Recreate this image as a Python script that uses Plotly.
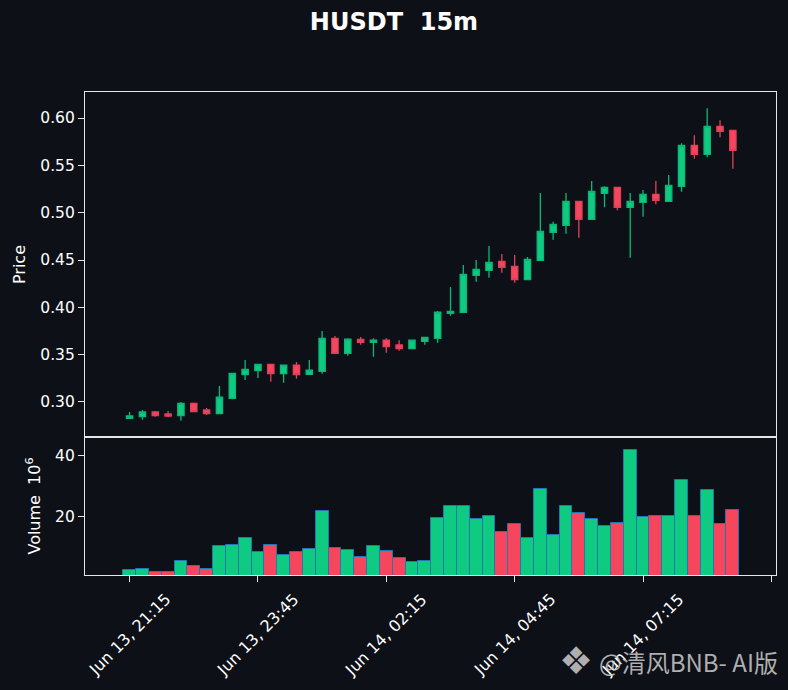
import pandas as pd
import plotly.graph_objects as go
from plotly.subplots import make_subplots

# 15m candles, Jun 13 21:15 -> Jun 14 09:00
times = pd.date_range("2025-06-13 21:15", periods=48, freq="15min")

opens = [0.2828, 0.2845, 0.2894, 0.2873, 0.2855, 0.2986, 0.2915, 0.2876, 0.3039, 0.3289,
         0.3331, 0.3398, 0.3299, 0.3388, 0.3293, 0.3324, 0.3673, 0.3514, 0.3662, 0.3631,
         0.3652, 0.3602, 0.3563, 0.3641, 0.3673, 0.3937, 0.3948, 0.4338, 0.4391, 0.4486,
         0.4433, 0.4292, 0.4497, 0.4793, 0.4866, 0.5120, 0.4930, 0.5205, 0.5268, 0.5057,
         0.5109, 0.5194, 0.5120, 0.5278, 0.5712, 0.5616, 0.5912, 0.5870]
highs = [0.2894, 0.2915, 0.2905, 0.2905, 0.3000, 0.2995, 0.2937, 0.3169, 0.3310, 0.3444,
         0.3400, 0.3398, 0.3390, 0.3423, 0.3444, 0.3750, 0.3697, 0.3673, 0.3687, 0.3673,
         0.3673, 0.3652, 0.3655, 0.3686, 0.3961, 0.4215, 0.4447, 0.4500, 0.4648, 0.4563,
         0.4553, 0.4532, 0.5208, 0.4905, 0.5208, 0.5125, 0.5334, 0.5279, 0.5270, 0.5208,
         0.5239, 0.5334, 0.5398, 0.5733, 0.5817, 0.6102, 0.5976, 0.5875]
lows = [0.2828, 0.2813, 0.2845, 0.2842, 0.2803, 0.2895, 0.2863, 0.2876, 0.3030, 0.3232,
        0.3254, 0.3214, 0.3204, 0.3246, 0.3293, 0.3299, 0.3510, 0.3489, 0.3605, 0.3479,
        0.3521, 0.3542, 0.3560, 0.3605, 0.3626, 0.3912, 0.3945, 0.4271, 0.4313, 0.4366,
        0.4260, 0.4290, 0.4495, 0.4714, 0.4778, 0.4736, 0.4925, 0.5057, 0.5025, 0.4524,
        0.4957, 0.5088, 0.5115, 0.5221, 0.5570, 0.5585, 0.5796, 0.5464]
closes = [0.2852, 0.2894, 0.2855, 0.2852, 0.2986, 0.2898, 0.2876, 0.3050, 0.3303, 0.3345,
          0.3398, 0.3299, 0.3388, 0.3289, 0.3335, 0.3673, 0.3514, 0.3665, 0.3631, 0.3652,
          0.3584, 0.3563, 0.3652, 0.3683, 0.3948, 0.3958, 0.4349, 0.4402, 0.4476, 0.4423,
          0.4292, 0.4507, 0.4803, 0.4877, 0.5120, 0.4930, 0.5226, 0.5268, 0.5057, 0.5120,
          0.5194, 0.5131, 0.5289, 0.5712, 0.5616, 0.5912, 0.5859, 0.5659]
# volume in millions
volumes = [2.2, 2.5, 1.6, 1.6, 5.2, 3.5, 2.5, 10.1, 10.5, 12.8,
           8.2, 10.5, 7.2, 8.2, 9.1, 21.7, 9.5, 8.8, 6.5, 10.1,
           8.5, 6.2, 4.9, 5.2, 19.4, 23.3, 23.3, 19.0, 20.0, 14.8,
           17.4, 12.8, 28.9, 13.8, 23.3, 21.0, 19.0, 16.7, 17.7, 41.8,
           19.7, 20.0, 20.0, 31.9, 20.0, 28.6, 17.4, 22.0]

tick_vals = ["2025-06-13 21:15", "2025-06-13 23:45", "2025-06-14 02:15",
             "2025-06-14 04:45", "2025-06-14 07:15"]
tick_text = ["Jun 13, 21:15", "Jun 13, 23:45", "Jun 14, 02:15",
             "Jun 14, 04:45", "Jun 14, 07:15"]
last_tick = "2025-06-14 09:45"  # unlabelled tick at the right edge

bg = "#0d1017"
up = "#0ecb81"
down = "#f6465d"
axcol = "#e6e6e6"
x_range = ["2025-06-13 20:22:53", "2025-06-14 09:50:24"]

vol_colors = [up if c >= o else down for o, c in zip(opens, closes)]

fig = make_subplots(rows=2, cols=1, shared_xaxes=True, vertical_spacing=0,
                    row_heights=[345, 138])

fig.add_trace(go.Candlestick(
    x=times, open=opens, high=highs, low=lows, close=closes,
    increasing=dict(line=dict(color="#0cb877", width=1.3), fillcolor=up),
    decreasing=dict(line=dict(color="#e2405a", width=1.3), fillcolor=down),
    whiskerwidth=0, showlegend=False, hoverinfo="skip"), row=1, col=1)

fig.add_trace(go.Bar(
    x=times, y=volumes, width=15 * 60 * 1000,
    marker=dict(color=vol_colors, line=dict(color="#1f77b4", width=1)),
    showlegend=False, hoverinfo="skip"), row=2, col=1)

common_axis = dict(showline=True, linecolor=axcol, linewidth=1.2, mirror=True,
                   showgrid=False, zeroline=False, ticks="outside", ticklen=6,
                   tickcolor=axcol, tickfont=dict(color="white", size=15.5))

fig.update_xaxes(**common_axis)
fig.update_yaxes(**common_axis)

fig.update_xaxes(range=x_range, autorange=False, rangeslider_visible=False)
fig.update_xaxes(ticks="", row=1, col=1)
# tick marks only, labels are drawn centred under the ticks (matplotlib style)
fig.update_xaxes(tickvals=tick_vals + [last_tick], showticklabels=False, row=2, col=1)

for tv, tt in zip(tick_vals, tick_text):
    fig.add_annotation(text=tt, x=tv, xref="x2", y=0, yref="paper",
                       xanchor="center", yanchor="top", yshift=-12,
                       textangle=-45, showarrow=False,
                       font=dict(size=16, color="white"))

fig.update_yaxes(range=[0.263, 0.6275], tickvals=[0.30, 0.35, 0.40, 0.45, 0.50, 0.55, 0.60],
                 tickformat=".2f",
                 title=dict(text="Price", standoff=10, font=dict(color="white", size=16)),
                 row=1, col=1)
fig.update_yaxes(range=[0.66, 46.1], tickvals=[20, 40],
                 title=dict(text="Volume  10<sup>6</sup>", standoff=10,
                            font=dict(color="white", size=16)),
                 row=2, col=1)

fig.update_layout(
    width=788, height=690,
    margin=dict(l=85, r=12, t=92, b=115),
    paper_bgcolor=bg, plot_bgcolor=bg,
    font=dict(family="DejaVu Sans", color="white"),
    title=dict(text="<b>HUSDT\u00a0\u00a015m</b>", x=0.5, xanchor="center",
               y=1 - 22 / 690, yanchor="middle", yref="container",
               font=dict(size=24, color="white")),
    bargap=0,
)

# watermark
fig.add_annotation(text="❖", xref="paper", yref="paper",
                   x=(576 - 85) / 691, y=-(661 - 575) / 483, xanchor="center", yanchor="middle",
                   showarrow=False,
                   font=dict(family="DejaVu Sans", size=38, color="rgba(205,205,205,0.85)"))
fig.add_annotation(text="@清风BNB- AI版", xref="paper", yref="paper",
                   x=(780 - 85) / 691, y=-(661 - 575) / 483, xanchor="right", yanchor="middle",
                   showarrow=False,
                   font=dict(family="Noto Sans CJK SC", size=24, color="rgba(205,205,205,0.85)"))

fig.write_html("out.html", config={"displayModeBar": False},
               post_script="document.body.style.margin = '0';")
